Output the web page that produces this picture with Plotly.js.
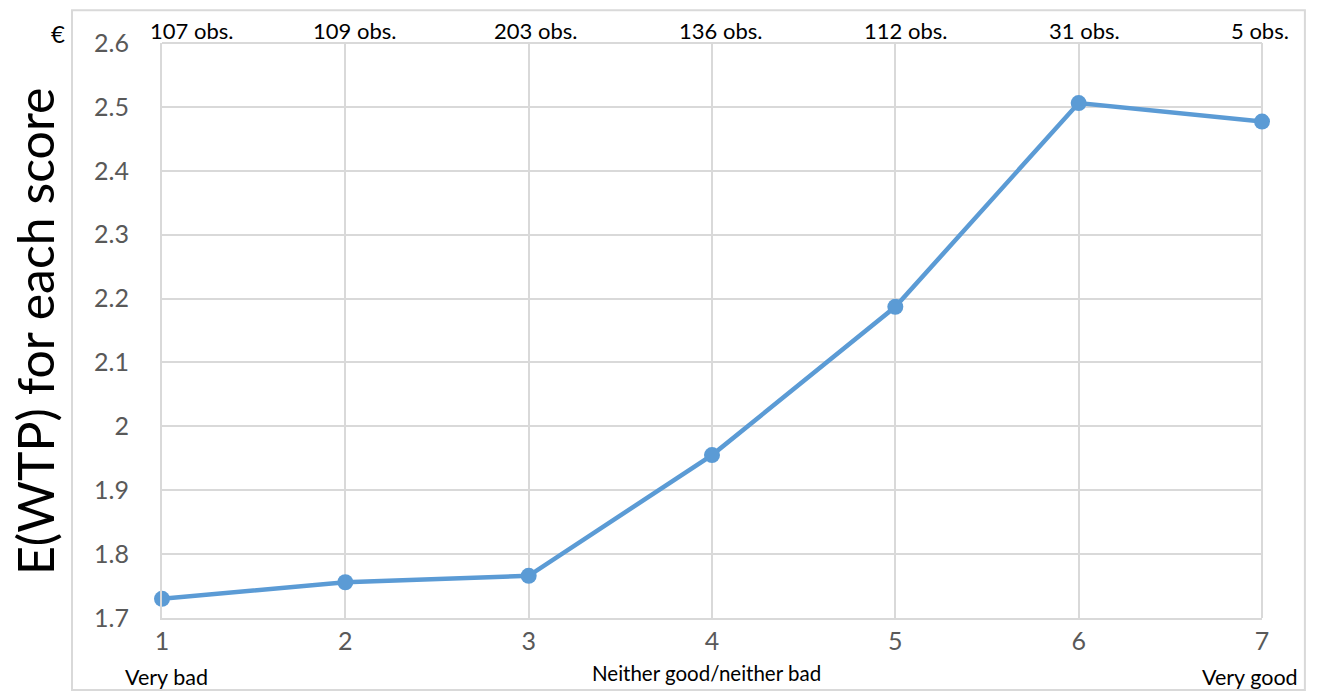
<!DOCTYPE html>
<html>
<head>
<meta charset="utf-8">
<script src="https://cdn.plot.ly/plotly-3.0.1.min.js"></script>
<style>
  html, body { margin: 0; padding: 0; background: #ffffff; }
  #chart { width: 1320px; height: 693px; }
</style>
</head>
<body>
<div id="chart"></div>
<script>
// Satisfaction score (1..7) and expected willingness to pay per score
const scores = [1, 2, 3, 4, 5, 6, 7];
const ewtp = [1.730, 1.756, 1.766, 1.955, 2.187, 2.506, 2.477];
// Number of observations behind each score
const obsCounts = ['107 obs.', '109 obs.', '203 obs.', '136 obs.', '112 obs.', '31 obs.', '5 obs.'];
const obsShift = [29, 9, 7, 8, 10, 6, -2];
// Verbal anchors of the scale
const anchorScores = [1, 4, 7];
const anchorLabels = ['Very bad', 'Neither good/neither bad', 'Very good'];
const anchorShift = [4, -6, -12];
const anchorSize = [21.5, 20.5, 21.5];
const anchorY = [-0.1026, -0.096, -0.1026];
const yTicks = [1.7, 1.8, 1.9, 2, 2.1, 2.2, 2.3, 2.4, 2.5, 2.6];

const FONT = 'Lato, "Open Sans", sans-serif';
const GRID = '#d9d9d9';

const trace = {
  x: scores,
  y: ewtp,
  type: 'scatter',
  mode: 'lines+markers',
  line: { color: '#5b9bd5', width: 4.5 },
  marker: { color: '#5b9bd5', size: 16 },
  cliponaxis: false,
  hoverinfo: 'x+y'
};

const annotations = [];
obsCounts.forEach((t, i) => {
  annotations.push({
    x: scores[i], xref: 'x', y: 1.0226, yref: 'paper',
    text: t, showarrow: false, xanchor: 'center', yanchor: 'middle',
    xshift: obsShift[i],
    font: { family: FONT, size: 22, color: '#000000' }
  });
});
anchorLabels.forEach((t, i) => {
  annotations.push({
    x: anchorScores[i], xref: 'x', y: anchorY[i], yref: 'paper',
    text: t, showarrow: false, xanchor: 'center', yanchor: 'middle',
    xshift: anchorShift[i],
    font: { family: FONT, size: anchorSize[i], color: '#000000' }
  });
});
// Vertical axis caption and the currency sign
annotations.push({
  x: -0.1155, xref: 'paper', y: 0.499, yref: 'paper',
  text: 'E(WTP) for each score', showarrow: false, textangle: -90,
  xanchor: 'center', yanchor: 'middle',
  font: { family: FONT, size: 50, color: '#000000' }
});
annotations.push({
  x: -0.0945, xref: 'paper', y: 1.0157, yref: 'paper',
  text: '€', showarrow: false, xanchor: 'center', yanchor: 'middle',
  font: { family: FONT, size: 24, color: '#000000' }
});

const layout = {
  width: 1320,
  height: 693,
  margin: { l: 162, r: 58, t: 43, b: 75, pad: 0 },
  paper_bgcolor: '#ffffff',
  plot_bgcolor: '#ffffff',
  showlegend: false,
  font: { family: FONT },
  xaxis: {
    range: [1, 7],
    tickvals: scores,
    ticktext: scores.map(String),
    showgrid: true,
    gridcolor: GRID,
    gridwidth: 2,
    zeroline: false,
    showline: true,
    linecolor: GRID,
    linewidth: 2,
    ticks: '',
    tickfont: { family: FONT, size: 25, color: '#595959' },
    fixedrange: true
  },
  yaxis: {
    range: [1.7, 2.6],
    tickvals: yTicks,
    ticktext: yTicks.map(v => String(v)),
    showgrid: true,
    gridcolor: GRID,
    gridwidth: 2,
    zeroline: false,
    showline: true,
    linecolor: GRID,
    linewidth: 2,
    mirror: false,
    ticks: '',
    ticklabelstandoff: 26,
    tickfont: { family: FONT, size: 25, color: '#595959' },
    fixedrange: true
  },
  shapes: [
    // light frame around the whole chart area
    {
      type: 'rect', xref: 'paper', yref: 'paper',
      x0: -0.0818, x1: 1.039, y0: -0.125, y1: 1.057,
      line: { color: '#d9d9d9', width: 2 }, fillcolor: 'rgba(0,0,0,0)',
      layer: 'below'
    },
    // top and right borders of the plotting area
    {
      type: 'line', xref: 'paper', yref: 'paper',
      x0: 0, x1: 1, y0: 1, y1: 1,
      line: { color: GRID, width: 2 }, layer: 'below'
    },
    {
      type: 'line', xref: 'paper', yref: 'paper',
      x0: 1, x1: 1, y0: 0, y1: 1,
      line: { color: GRID, width: 2 }, layer: 'below'
    }
  ],
  annotations: annotations
};

Plotly.newPlot('chart', [trace], layout, { displayModeBar: false, staticPlot: true });
</script>
</body>
</html>
